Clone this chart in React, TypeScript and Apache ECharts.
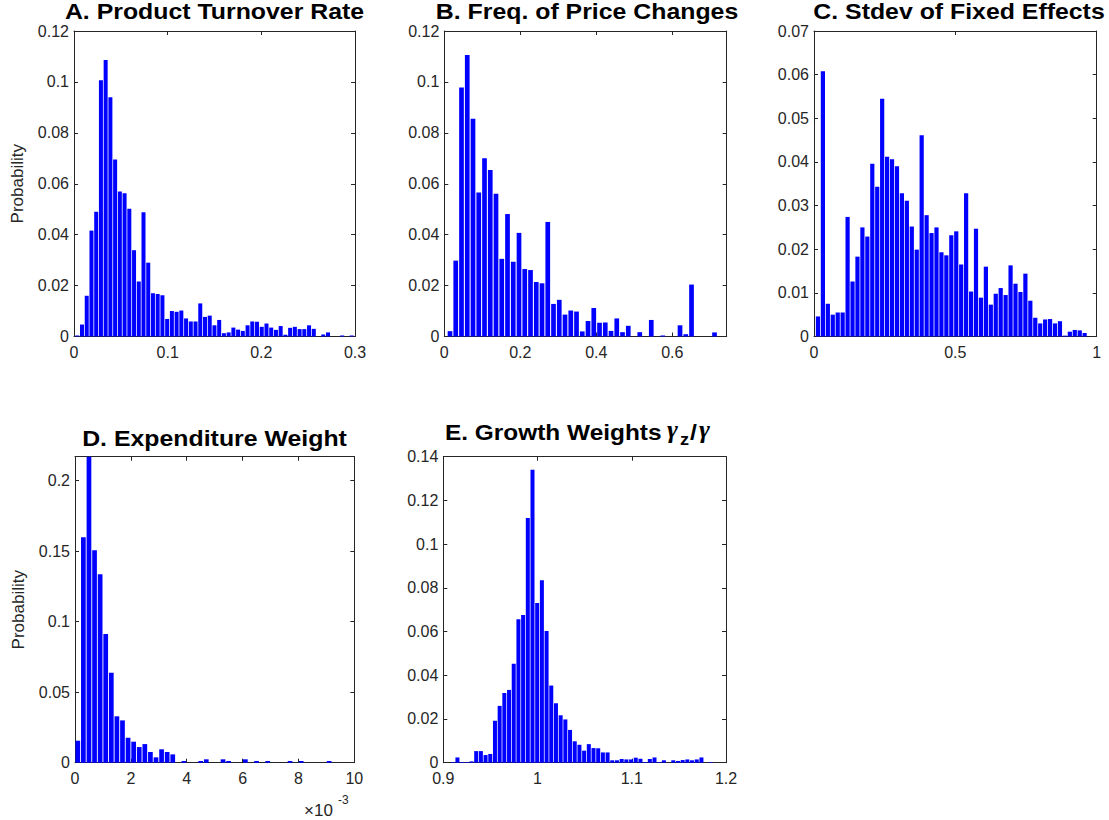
import React, { useEffect, useRef } from "react";
import * as echarts from "echarts";

// ---------- data (histogram probabilities) ----------
const turnoverBinStart = 0.0035;
const turnoverBinWidth = 0.00505;
const turnoverProb = [
  0.0004, 0.0047, 0.016, 0.0416, 0.049, 0.1007, 0.1086, 0.094, 0.0695, 0.057,
  0.0563, 0.0502, 0.0339, 0.0216, 0.0488, 0.029, 0.017, 0.0167, 0.0162, 0.0069,
  0.01, 0.0097, 0.0102, 0.0071, 0.0059, 0.0059, 0.013, 0.0077, 0.0082, 0.0044,
  0.0065, 0.0013, 0.0016, 0.0035, 0.0027, 0.0022, 0.0044, 0.0059, 0.0058, 0.0038,
  0.0051, 0.0035, 0.0026, 0.0041, 0.0007, 0.0034, 0.0038, 0.0029, 0.0029, 0.0044,
  0.003, 0, 0.0008, 0.0016, 0, 0, 0.0004, 0, 0.0004,
];

const priceFreqBinStart = 0.015;
const priceFreqBinWidth = 0.01513;
const priceFreqProb = [
  0.0021, 0.0298, 0.0978, 0.1106, 0.0855, 0.0566, 0.07, 0.0654, 0.0561, 0.0305,
  0.0481, 0.0294, 0.0407, 0.0265, 0.0261, 0.0214, 0.0209, 0.045, 0.0128, 0.0144,
  0.0086, 0.0102, 0.0098, 0.002, 0.0061, 0.0112, 0.0054, 0.0055, 0.0022, 0.0071,
  0.0017, 0.0042, 0, 0.0017, 0, 0.0065, 0, 0.0004, 0, 0,
  0.0044, 0.0009, 0.0204, 0, 0, 0, 0.0016,
];

const fixedEffBinStart = 0.014;
const fixedEffBinWidth = 0.01747;
const fixedEffProb = [
  0.0046, 0.0608, 0.0075, 0.005, 0.0055, 0.0055, 0.0274, 0.0126, 0.0183, 0.025,
  0.0229, 0.0396, 0.0343, 0.0545, 0.0412, 0.0406, 0.039, 0.0328, 0.0311, 0.0252,
  0.0199, 0.0461, 0.0278, 0.0237, 0.025, 0.0193, 0.0186, 0.0232, 0.0241, 0.0165,
  0.0328, 0.0103, 0.0247, 0.0089, 0.016, 0.0073, 0.0098, 0.0111, 0.0095, 0.0163,
  0.0121, 0.0102, 0.0144, 0.0082, 0.0043, 0.003, 0.0039, 0.004, 0.003, 0.0035,
  0.0002, 0.0011, 0.0015, 0.0014, 0.0008,
];

// expenditure weight, x in units of 1e-3
const expWeightBinStart = 0.1;
const expWeightBinWidth = 0.2;
const expWeightProb = [
  0.0156, 0.1598, 0.217, 0.1506, 0.1336, 0.0913, 0.0638, 0.0329, 0.03, 0.0177,
  0.0149, 0.0111, 0.0132, 0.0076, 0.0038, 0.0095, 0.0076, 0.0059, 0, 0.0012,
  0, 0, 0.0012, 0.0024, 0, 0, 0.0024, 0.0012, 0, 0,
  0.0024, 0, 0.0012, 0, 0.0012, 0, 0, 0, 0.0012, 0,
  0.0012, 0, 0, 0, 0, 0.0012, 0, 0, 0, 0,
];

const growthBinStart = 0.91;
const growthBinWidth = 0.00498;
const growthProb = [
  0.0003, 0.0024, 0.0003, 0.0003, 0.0006, 0.0053, 0.0053, 0.0035, 0.004, 0.0192,
  0.026, 0.0319, 0.0333, 0.0453, 0.0656, 0.0676, 0.112, 0.134, 0.0731, 0.0835,
  0.0603, 0.0353, 0.0272, 0.0217, 0.0198, 0.015, 0.0098, 0.0082, 0.0055, 0.0085,
  0.0067, 0.0066, 0.0047, 0.0047, 0.0011, 0.0011, 0.0017, 0.0015, 0.0015, 0.0023,
  0.0018, 0.0003, 0.0017, 0.0024, 0.0003, 0.0011, 0, 0.0011, 0.0008, 0.0012,
  0.0015, 0.0011, 0.0015, 0.0024, 0, 0.0003,
];

const titles = [
  "A. Product Turnover Rate",
  "B. Freq. of Price Changes",
  "C. Stdev of Fixed Effects",
  "D. Expenditure Weight",
];
const yLabel = "Probability";

// ---------- styling / layout ----------
const FONT = '"Liberation Sans", Arial, Helvetica, sans-serif';
const AXIS_COLOR = "#262626";
const BAR_COLOR = "#0000ff";
const STRETCH = 1.13;
const TICK_FONT = 16;

type Panel = {
  grid: { left: number; top: number; width: number; height: number };
  xMin: number; xMax: number; xInt: number;
  yMax: number; yInt: number;
  binStart: number; binWidth: number; probs: number[];
  barW: number; showY: boolean;
};

const panels: Panel[] = [
  { grid: { left: 74, top: 31, width: 281, height: 305.5 }, xMin: 0, xMax: 0.3, xInt: 0.1, yMax: 0.12, yInt: 0.02,
    binStart: turnoverBinStart, binWidth: turnoverBinWidth, probs: turnoverProb, barW: 4, showY: true },
  { grid: { left: 444.3, top: 31, width: 282.4, height: 305.5 }, xMin: 0, xMax: 0.743, xInt: 0.2, yMax: 0.12, yInt: 0.02,
    binStart: priceFreqBinStart, binWidth: priceFreqBinWidth, probs: priceFreqProb, barW: 4.7, showY: false },
  { grid: { left: 814, top: 31, width: 282.7, height: 305.5 }, xMin: 0, xMax: 1, xInt: 0.5, yMax: 0.07, yInt: 0.01,
    binStart: fixedEffBinStart, binWidth: fixedEffBinWidth, probs: fixedEffProb, barW: 4.2, showY: false },
  { grid: { left: 75, top: 456.7, width: 279.3, height: 306 }, xMin: 0, xMax: 10, xInt: 2, yMax: 0.217, yInt: 0.05,
    binStart: expWeightBinStart, binWidth: expWeightBinWidth, probs: expWeightProb, barW: 4.7, showY: true },
  { grid: { left: 443.3, top: 456.7, width: 282.7, height: 306 }, xMin: 0.9, xMax: 1.2, xInt: 0.1, yMax: 0.14, yInt: 0.02,
    binStart: growthBinStart, binWidth: growthBinWidth, probs: growthProb, barW: 4, showY: false },
];

function isMultiple(v: number, step: number) {
  return Math.abs(v / step - Math.round(v / step)) < 1e-6;
}

function axisBase(showLabel: boolean, position: string) {
  return {
    type: "value",
    position,
    axisLine: { show: true, onZero: false, lineStyle: { color: AXIS_COLOR, width: 1 } },
    axisTick: { show: true, inside: true, length: 4, lineStyle: { color: AXIS_COLOR, width: 1 } },
    splitLine: { show: false },
    axisLabel: {
      show: showLabel,
      color: AXIS_COLOR,
      fontSize: TICK_FONT,
      fontFamily: FONT,
      showMaxLabel: false,
    },
  };
}

function buildOption() {
  const grid: any[] = [];
  const xAxis: any[] = [];
  const yAxis: any[] = [];
  const series: any[] = [];

  panels.forEach((p, i) => {
    grid.push({ ...p.grid, containLabel: false });
    const xb: any = axisBase(true, "bottom");
    xb.gridIndex = i; xb.min = p.xMin; xb.max = p.xMax; xb.interval = p.xInt;
    xb.axisLabel.margin = 8;
    xb.axisLabel.showMaxLabel = isMultiple(p.xMax, p.xInt);
    const xt: any = axisBase(false, "top");
    xt.gridIndex = i; xt.min = p.xMin; xt.max = p.xMax; xt.interval = p.xInt;
    xAxis.push(xb, xt);

    const yl: any = axisBase(true, "left");
    yl.gridIndex = i; yl.min = 0; yl.max = p.yMax; yl.interval = p.yInt;
    yl.axisLabel.margin = 5;
    yl.axisLabel.showMaxLabel = isMultiple(p.yMax, p.yInt);
    if (p.showY) {
      yl.name = yLabel;
      yl.nameLocation = "middle";
      yl.nameGap = 48;
      yl.nameTextStyle = { color: AXIS_COLOR, fontSize: 17, fontFamily: FONT };
    }
    const yr: any = axisBase(false, "right");
    yr.gridIndex = i; yr.min = 0; yr.max = p.yMax; yr.interval = p.yInt;
    yAxis.push(yl, yr);

    series.push({
      type: "bar",
      xAxisIndex: 2 * i,
      yAxisIndex: 2 * i,
      barWidth: p.barW,
      itemStyle: { color: BAR_COLOR },
      emphasis: { disabled: true },
      data: p.probs.map((v, k) => [p.binStart + p.binWidth * k, v]),
    });
  });

  const titleFont = `bold 22px ${FONT}`;
  const gammaFont = `italic bold 25px "Liberation Serif", "DejaVu Serif", serif`;
  const titleCenters = [
    { x: 214.5, y: 12 },
    { x: 587, y: 12 },
    { x: 959, y: 12 },
    { x: 214.5, y: 439 },
  ];
  const graphic: any[] = titles.map((t, i) => ({
    type: "text",
    x: titleCenters[i].x,
    y: titleCenters[i].y,
    scaleX: STRETCH,
    silent: true,
    style: { text: t, font: titleFont, fill: "#000", align: "center", verticalAlign: "middle" },
  }));

  // Title E with gamma_z / gamma
  graphic.push(
    { type: "text", x: 445, y: 432, scaleX: 1.11, silent: true,
      style: { text: "E. Growth Weights", font: titleFont, fill: "#000", align: "left", verticalAlign: "middle" } },
    { type: "text", x: 667, y: 430, scaleX: 1.05, silent: true,
      style: { text: "γ", font: gammaFont, fill: "#000", align: "left", verticalAlign: "middle" } },
    { type: "text", x: 680, y: 440, scaleX: STRETCH, silent: true,
      style: { text: "z", font: `bold 16px ${FONT}`, fill: "#000", align: "left", verticalAlign: "middle" } },
    { type: "text", x: 690, y: 433, scaleX: STRETCH, silent: true,
      style: { text: "/", font: titleFont, fill: "#000", align: "left", verticalAlign: "middle" } },
    { type: "text", x: 699, y: 430, scaleX: 1.05, silent: true,
      style: { text: "γ", font: gammaFont, fill: "#000", align: "left", verticalAlign: "middle" } },
  );

  // x10^-3 multiplier for panel D
  graphic.push(
    { type: "text", x: 304, y: 810, silent: true,
      style: { text: "×10", font: `17px ${FONT}`, fill: AXIS_COLOR, align: "left", verticalAlign: "middle" } },
    { type: "text", x: 338, y: 800, silent: true,
      style: { text: "-3", font: `12px ${FONT}`, fill: AXIS_COLOR, align: "left", verticalAlign: "middle" } },
  );

  return {
    animation: false,
    backgroundColor: "#ffffff",
    grid,
    xAxis,
    yAxis,
    series,
    graphic,
  };
}

export default function App() {
  const ref = useRef<HTMLDivElement>(null);
  useEffect(() => {
    if (!ref.current) return;
    const chart = echarts.init(ref.current, undefined, { renderer: "svg" });
    chart.setOption(buildOption() as any);
    return () => chart.dispose();
  }, []);
  return (
    <div
      ref={ref}
      style={{ position: "absolute", left: 0, top: 0, width: 1109, height: 820, background: "#fff" }}
    />
  );
}
